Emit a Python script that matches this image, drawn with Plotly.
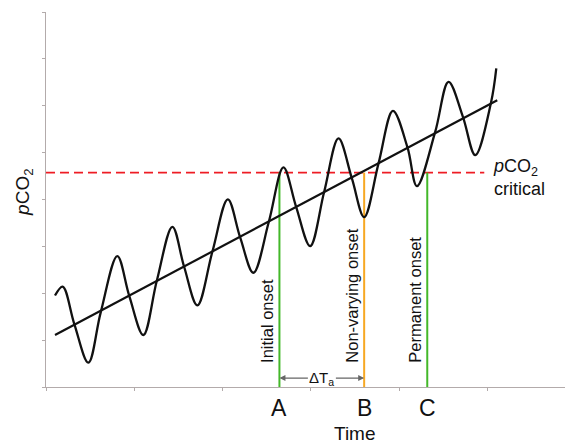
import plotly.graph_objects as go

# Oscillating pCO2 curve (peaks, troughs, trend crossings)
time_pts = [0.102, 0.189, 0.321, 0.480, 0.620, 0.808, 0.944, 1.103, 1.255, 1.432,
            1.565, 1.715, 1.885, 2.060, 2.200, 2.350, 2.525, 2.690, 2.834, 2.993,
            3.152, 3.314, 3.466, 3.605, 3.768, 3.931, 4.096, 4.203, 4.410, 4.561,
            4.724, 4.864, 5.042, 5.102]
pco2_pts = [1.951, 2.143, 1.343, 0.518, 1.593, 2.793, 1.940, 1.109, 2.260, 3.418,
            2.565, 1.742, 2.885, 4.002, 3.192, 2.437, 3.525, 4.684, 3.844, 3.006,
            4.164, 5.303, 4.450, 3.625, 4.770, 5.891, 5.111, 4.286, 5.443, 6.510,
            5.763, 4.947, 6.062, 6.795]

# Linear trend
trend_time = [0.102, 5.113]
trend_pco2 = [1.109, 6.119]

# Critical level
critical_level = 4.574
critical_span = [0.0, 4.966]

# Onsets
onset_times = [2.645, 3.605, 4.320]
onset_letters = ["A", "B", "C"]
onset_names = ["Initial onset", "Non-varying onset", "Permanent onset"]
onset_colors = ["#43b829", "#f7a823", "#43b829"]

x_ticks = [0, 1, 2, 3, 4, 5]
y_ticks = [0, 1, 2, 3, 4, 5, 6, 7, 8]

FONT = "Arial, Liberation Sans, sans-serif"
AXIS_COLOR = "#b3abab"

fig = go.Figure()

fig.add_trace(go.Scatter(x=critical_span, y=[critical_level] * 2, mode="lines",
                         line=dict(color="#ee1c24", width=1.8, dash="9px,5px"),
                         hoverinfo="skip", showlegend=False))

for t, c in zip(onset_times, onset_colors):
    fig.add_trace(go.Scatter(x=[t, t], y=[0, critical_level], mode="lines",
                             line=dict(color=c, width=2), hoverinfo="skip",
                             showlegend=False))

fig.add_trace(go.Scatter(x=trend_time, y=trend_pco2, mode="lines",
                         line=dict(color="#111111", width=2.2), showlegend=False))

fig.add_trace(go.Scatter(x=time_pts, y=pco2_pts, mode="lines",
                         line=dict(color="#111111", width=2.3, shape="spline", smoothing=1.0),
                         showlegend=False))

annotations = []
for t, letter, name in zip(onset_times, onset_letters, onset_names):
    annotations.append(dict(x=t, y=-0.056, xref="x", yref="paper", text=letter,
                            showarrow=False, font=dict(family=FONT, size=23, color="#111"),
                            xanchor="center", yanchor="middle"))
    annotations.append(dict(x=t, y=0.48, xref="x", yref="y", text=name,
                            textangle=-90, showarrow=False, xshift=-13,
                            font=dict(family=FONT, size=16.5, color="#111"),
                            xanchor="center", yanchor="bottom"))

# Delta T_a double arrow
mid_t = 3.126
arrow_y = 0.19
annotations.append(dict(x=onset_times[1], y=arrow_y, xref="x", yref="y",
                        ax=mid_t, ay=arrow_y, axref="x", ayref="y",
                        text="ΔT<sub>a</sub>", showarrow=True, arrowhead=2,
                        arrowsize=1, arrowwidth=1.2, arrowcolor="#666",
                        font=dict(family=FONT, size=15, color="#111")))
annotations.append(dict(x=onset_times[0], y=arrow_y, xref="x", yref="y",
                        ax=mid_t, ay=arrow_y, axref="x", ayref="y",
                        text="ΔT<sub>a</sub>", showarrow=True, arrowhead=2,
                        arrowsize=1, arrowwidth=1.2, arrowcolor="#666",
                        font=dict(family=FONT, size=15, color="rgba(0,0,0,0)")))

annotations.append(dict(x=5.045, y=4.48, xref="x", yref="y",
                        text="<i>p</i>CO<sub>2</sub><br>critical", showarrow=False,
                        xanchor="left", yanchor="middle", align="left",
                        font=dict(family=FONT, size=18, color="#111")))

annotations.append(dict(x=3.5, y=-0.1227, xref="x", yref="paper", text="Time",
                        showarrow=False, xanchor="center", yanchor="middle",
                        font=dict(family=FONT, size=19, color="#111")))

annotations.append(dict(x=-0.042, y=0.52, xref="paper", yref="paper",
                        text="<i>p</i>CO<sub>2</sub>", textangle=-90, showarrow=False,
                        xanchor="center", yanchor="middle",
                        font=dict(family=FONT, size=19, color="#111")))

fig.update_layout(
    width=565, height=435,
    margin=dict(l=38, r=1, t=4, b=56),
    paper_bgcolor="white", plot_bgcolor="white",
    annotations=annotations,
    xaxis=dict(range=[0, 5.96], tickvals=x_ticks, showticklabels=False,
               showgrid=False, zeroline=False, showline=True, linecolor=AXIS_COLOR,
               linewidth=1, ticks="outside", ticklen=3, tickcolor=AXIS_COLOR),
    yaxis=dict(range=[0, 8], tickvals=y_ticks, showticklabels=False,
               showgrid=False, zeroline=False, showline=True, linecolor=AXIS_COLOR,
               linewidth=1, ticks="outside", ticklen=3, tickcolor=AXIS_COLOR),
)

fig.write_html("out.html")
